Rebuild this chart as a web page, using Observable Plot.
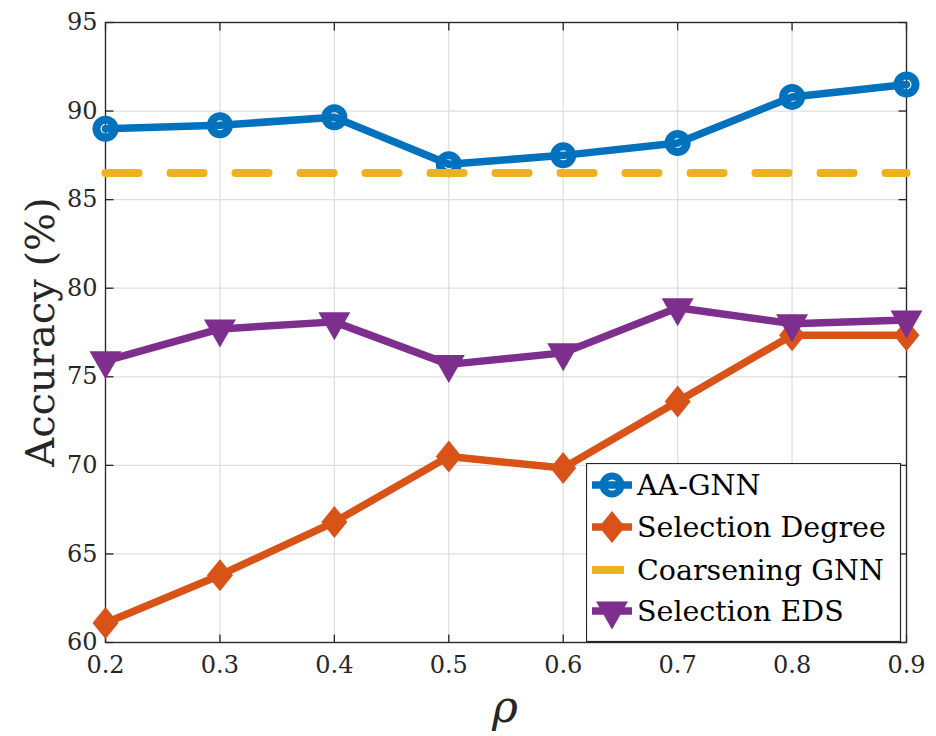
<!DOCTYPE html>
<html>
<head>
<meta charset="utf-8">
<script src="https://cdn.jsdelivr.net/npm/d3@7"></script>
<script src="https://cdn.jsdelivr.net/npm/@observablehq/plot@0.6"></script>
<style>
  html, body { margin: 0; padding: 0; background: #fff; }
  #wrap { position: relative; width: 936px; height: 736px; }
  #legend { position: absolute; left: 586px; top: 463px; }
</style>
</head>
<body>
<div id="wrap"></div>
<script>
// ---- data ----
const rho = [0.2, 0.3, 0.4, 0.5, 0.6, 0.7, 0.8, 0.9];
const aaGnn = [89.0, 89.2, 89.65, 87.0, 87.5, 88.2, 90.8, 91.5];
const selectionDegree = [61.1, 63.8, 66.8, 70.5, 69.85, 73.6, 77.35, 77.35];
const coarseningGnn = [86.5, 86.5, 86.5, 86.5, 86.5, 86.5, 86.5, 86.5];
const selectionEds = [75.9, 77.7, 78.1, 75.7, 76.35, 78.9, 78.0, 78.2];
const seriesNames = ["AA-GNN", "Selection Degree", "Coarsening GNN", "Selection EDS"];
const seriesColors = ["#0072BD", "#D95319", "#EDB120", "#7E2F8E"];
const xTicks = [0.2, 0.3, 0.4, 0.5, 0.6, 0.7, 0.8, 0.9];
const yTicks = [60, 65, 70, 75, 80, 85, 90, 95];
const xLabel = "ρ";
const yLabel = "Accuracy (%)";

const seriesValues = [aaGnn, selectionDegree, coarseningGnn, selectionEds];
const rows = [];
seriesNames.forEach((name, i) => rho.forEach((r, j) => rows.push({series: name, rho: r, acc: seriesValues[i][j]})));
const of = name => rows.filter(d => d.series === name);

// ---- symbols ----
const circleSym = {draw(ctx) { ctx.moveTo(9, 0); ctx.arc(0, 0, 9, 0, 2 * Math.PI); }};
const diamondSym = {draw(ctx) { ctx.moveTo(0, -16); ctx.lineTo(13, 0); ctx.lineTo(0, 16); ctx.lineTo(-13, 0); ctx.closePath(); }};
const triDownSym = {draw(ctx) { ctx.moveTo(-16, -9.5); ctx.lineTo(16, -9.5); ctx.lineTo(0, 18.5); ctx.closePath(); }};
const tickR = {draw(ctx) { ctx.moveTo(0, 0); ctx.lineTo(8, 0); }};
const tickL = {draw(ctx) { ctx.moveTo(0, 0); ctx.lineTo(-8, 0); }};
const tickU = {draw(ctx) { ctx.moveTo(0, 0); ctx.lineTo(0, -8); }};
const tickD = {draw(ctx) { ctx.moveTo(0, 0); ctx.lineTo(0, 8); }};

const FONT = "DejaVu Serif";
const axisColor = "#262626";
const gridColor = "#dfdfdf";
const xMin = xTicks[0], xMax = xTicks[xTicks.length - 1];
const yMin = yTicks[0], yMax = yTicks[yTicks.length - 1];

const chart = Plot.plot({
  width: 936,
  height: 736,
  marginLeft: 105,
  marginRight: 30,
  marginTop: 22,
  marginBottom: 94,
  style: {fontFamily: FONT, fontSize: "24px", color: axisColor, background: "#fff"},
  x: {domain: [xMin, xMax]},
  y: {domain: [yMin, yMax]},
  marks: [
    Plot.gridX(xTicks, {stroke: gridColor, strokeOpacity: 1, strokeWidth: 1.3}),
    Plot.gridY(yTicks, {stroke: gridColor, strokeOpacity: 1, strokeWidth: 1.3}),
    Plot.frame({stroke: axisColor, strokeWidth: 1.3}),
    Plot.axisX({ticks: xTicks, tickSize: 0, tickPadding: 13, tickFormat: d3.format(".1f"), label: null, fill: axisColor}),
    Plot.axisY({ticks: yTicks, tickSize: 0, tickPadding: 8, label: null, fill: axisColor}),
    Plot.dot(yTicks, {x: () => xMin, y: d => d, symbol: tickR, stroke: axisColor, strokeWidth: 1.3, fill: "none"}),
    Plot.dot(yTicks, {x: () => xMax, y: d => d, symbol: tickL, stroke: axisColor, strokeWidth: 1.3, fill: "none"}),
    Plot.dot(xTicks, {x: d => d, y: () => yMin, symbol: tickU, stroke: axisColor, strokeWidth: 1.3, fill: "none"}),
    Plot.dot(xTicks, {x: d => d, y: () => yMax, symbol: tickD, stroke: axisColor, strokeWidth: 1.3, fill: "none"}),
    Plot.line(of(seriesNames[0]), {x: "rho", y: "acc", stroke: seriesColors[0], strokeWidth: 7.5}),
    Plot.dot(of(seriesNames[0]), {x: "rho", y: "acc", symbol: circleSym, stroke: seriesColors[0], strokeWidth: 8, fill: "none"}),
    Plot.line(of(seriesNames[1]), {x: "rho", y: "acc", stroke: seriesColors[1], strokeWidth: 7.5}),
    Plot.dot(of(seriesNames[1]), {x: "rho", y: "acc", symbol: diamondSym, fill: seriesColors[1], stroke: "none"}),
    Plot.line(of(seriesNames[2]), {x: "rho", y: "acc", stroke: seriesColors[2], strokeWidth: 8, strokeDasharray: "33,32"}),
    Plot.line(of(seriesNames[3]), {x: "rho", y: "acc", stroke: seriesColors[3], strokeWidth: 7.5}),
    Plot.dot(of(seriesNames[3]), {x: "rho", y: "acc", symbol: triDownSym, fill: seriesColors[3], stroke: "none"})
  ]
});

const wrap = document.getElementById("wrap");
wrap.appendChild(chart);

const svg = d3.select(chart);
svg.append("text")
  .attr("transform", "translate(54,332) rotate(-90)")
  .attr("text-anchor", "middle")
  .style("font-family", FONT)
  .attr("font-size", 40)
  .attr("fill", axisColor)
  .text(yLabel);
svg.append("text")
  .attr("x", 505)
  .attr("y", 722)
  .attr("text-anchor", "middle")
  .style("font-family", FONT)
  .attr("font-style", "italic")
  .attr("font-size", 44)
  .attr("fill", axisColor)
  .text(xLabel);

const legW = 314, legH = 178;
const leg = d3.select(wrap).append("svg")
  .attr("id", "legend")
  .attr("width", legW + 2)
  .attr("height", legH + 2);
leg.append("rect").attr("x", 0.5).attr("y", 0.5).attr("width", legW).attr("height", legH)
  .attr("fill", "#fff").attr("stroke", axisColor).attr("stroke-width", 1.2);
const syms = [circleSym, diamondSym, null, triDownSym];
const rowY = [22, 64, 107, 148];
seriesNames.forEach((name, i) => {
  const g = leg.append("g").attr("transform", `translate(0,${rowY[i]})`);
  if (i === 2) {
    g.append("line").attr("x1", 6).attr("x2", 38).attr("y1", 0).attr("y2", 0)
      .attr("stroke", seriesColors[i]).attr("stroke-width", 8);
  } else {
    g.append("line").attr("x1", 6).attr("x2", 46).attr("y1", 0).attr("y2", 0)
      .attr("stroke", seriesColors[i]).attr("stroke-width", 7.5);
    const p = g.append("path").attr("transform", "translate(26,0)")
      .attr("d", d3.symbol().type(syms[i])());
    if (i === 0) p.attr("fill", "none").attr("stroke", seriesColors[i]).attr("stroke-width", 7);
    else p.attr("fill", seriesColors[i]);
  }
  g.append("text").attr("x", 51).attr("y", 0).attr("dy", "0.36em")
    .style("font-family", FONT)
    .attr("font-size", 28.5)
    .attr("fill", "#000")
    .text(name);
});
</script>
</body>
</html>
